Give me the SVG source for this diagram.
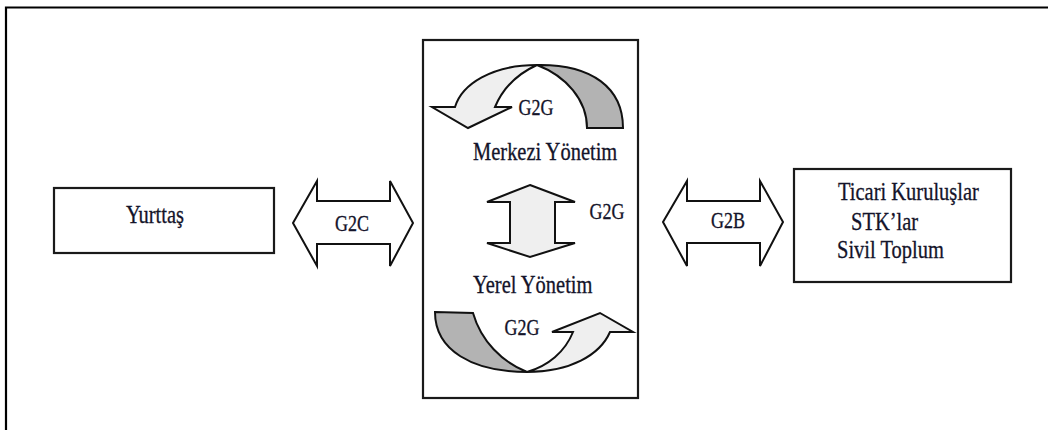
<svg xmlns="http://www.w3.org/2000/svg" width="1048" height="430" viewBox="0 0 1048 430">
<style>
.box{fill:#ffffff;stroke:#1a1a1a;stroke-width:2.2}
.arr{stroke:#111111;stroke-width:2;stroke-linejoin:miter}
.lt{fill:#efefef}
.dk{fill:#b3b3b3}
.t{font-family:"Liberation Serif","Times New Roman",serif;font-size:20.5px;fill:#14142a;stroke:#14142a;stroke-width:0.25}
.s{font-family:"Liberation Serif","Times New Roman",serif;font-size:18px;fill:#14142a;stroke:#14142a;stroke-width:0.25;text-anchor:middle}
</style>
<rect width="1048" height="430" fill="#ffffff"/>
<path d="M6,430 V7.5 H1048" fill="none" stroke="#000" stroke-width="2.2"/>
<g id="yurttas">
<rect class="box" x="54" y="188" width="220" height="65"/>
<text class="t" transform="translate(155,223) scale(1,1.2)" text-anchor="middle">Yurttaş</text>
</g>
<g id="devlet">
<rect class="box" x="423" y="40" width="215" height="358" stroke-width="1.8"/>
<text class="t" transform="translate(473,160) scale(1,1.2)">Merkezi Yönetim</text>
<text class="t" transform="translate(473,293) scale(1,1.2)">Yerel Yönetim</text>
</g>
<g id="ticari">
<rect class="box" x="794" y="169" width="217" height="113"/>
<text class="t" transform="translate(838,200) scale(1,1.2)">Ticari Kuruluşlar</text>
<text class="t" transform="translate(851,230) scale(1,1.2)">STK’lar</text>
<text class="t" transform="translate(837,258) scale(1,1.2)">Sivil Toplum</text>
</g>
<g id="connectors">
<path class="arr" fill="#ffffff" d="M293,223 L317,181 L317,201 L390,201 L390,181 L413,223 L390,266 L390,244 L317,244 L317,266 Z"/>
<text class="s" transform="translate(352,231) scale(1,1.25)">G2C</text>
<path class="arr" fill="#ffffff" d="M663,222 L687,181 L687,201 L760,201 L760,181 L783,222 L760,266 L760,243 L687,243 L687,266 Z"/>
<text class="s" transform="translate(728,228) scale(1,1.25)">G2B</text>
<path class="arr lt" d="M530,185 L575,202 L555,202 L555,243 L575,243 L530,257 L487,243 L510,243 L510,202 L487,202 Z"/>
<text class="s" transform="translate(607,219) scale(1,1.25)">G2G</text>
<path class="arr dk" d="M623,128 C623,88 592,64 537,65 C566,76 587,100 587,128 Z"/>
<path class="arr lt" d="M537,65 C492,65 462,84 455,107 L432,107 L468,128 L512,107 L495,107 C503,88 517,74 537,65 Z"/>
<text class="s" transform="translate(536,115) scale(1,1.25)">G2G</text>
<path class="arr dk" d="M435,312 L473,313 C481,341 502,362 527,372 C472,372 435,350 435,312 Z"/>
<path class="arr lt" d="M527,372 C570,372 600,355 610,332 L633,332 L600,313 L552,332 L573,332 C565,352 548,366 527,372 Z"/>
<text class="s" transform="translate(522,335) scale(1,1.25)">G2G</text>
</g>
</svg>
